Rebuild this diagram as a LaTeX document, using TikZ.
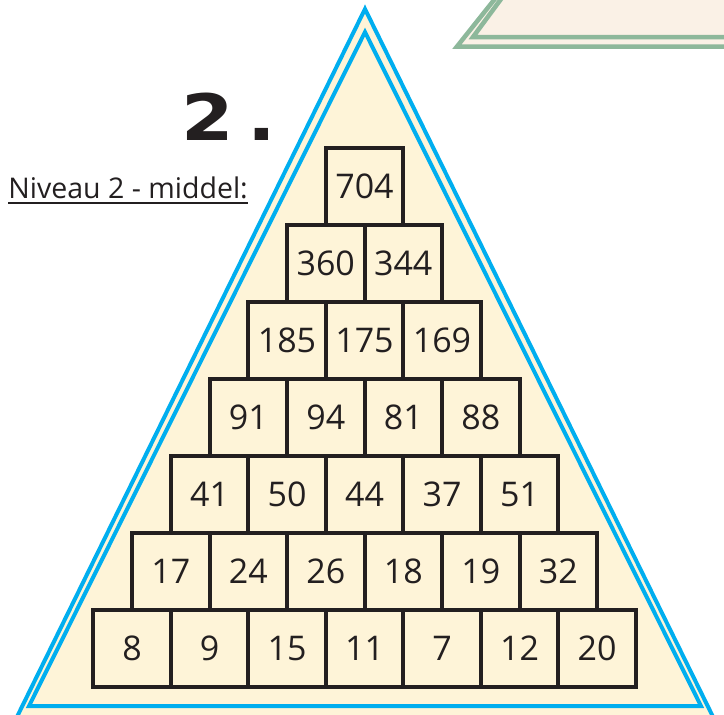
\documentclass[tikz,border=0pt]{standalone}
\usepackage{fontspec}
\setmainfont{Open Sans}
\newfontfamily\headfont{DejaVu Sans}
\usepackage{tikz}
\usetikzlibrary{positioning, calc}
\definecolor{pyrBlue}{HTML}{00AEEF}
\definecolor{pyrCream}{HTML}{FEF4D8}
\definecolor{boxLine}{HTML}{231F20}
\definecolor{nextGreen}{HTML}{8DB89B}
\definecolor{nextCream}{HTML}{FAF1E6}

\begin{document}
\begin{tikzpicture}[
    x=1pt, y=-1pt,
    numbox/.style={draw=boxLine, line width=4pt, fill=pyrCream,
                   minimum width=77.5pt, minimum height=77pt, inner sep=0pt,
                   font=\fontsize{34}{40}\selectfont, text=boxLine},
    rim/.style={draw=pyrBlue, line width=4pt, miter limit=10},
    nextrim/.style={draw=nextGreen, line width=4.5pt},
]
\useasboundingbox (0,0) rectangle (724,715);

% next pyramid, cut off at the top
\filldraw[nextrim, fill=nextCream] (498,-5) -- (457,46.5) -- (760,46.5) -- (760,-5);
\draw[nextrim] (504,-5) -- (473,37) -- (760,37);

% big pyramid
\filldraw[rim, fill=pyrCream] (365,9) -- (12,727) -- (718,727) -- cycle;
\draw[rim] (365,32) -- (29,706) -- (701,706) -- cycle;

% heading
\node[anchor=base west, inner sep=0pt, text=boxLine, xscale=1.18,
      font=\headfont\bfseries\fontsize{64}{70}\selectfont] (nr) at (181,140) {2\kern0.18em.};
\node[anchor=base east, inner sep=0pt, text=boxLine,
      font=\fontsize{28.5}{34}\selectfont] (lvl) at (248,198) {Niveau 2 - middel:};
\draw[boxLine, line width=1.8pt] ($(lvl.base west)+(0,5)$) -- ($(lvl.base east)+(0,5)$);

% number boxes, row by row
\foreach \row/\vals in {1/{704}, 2/{360,344}, 3/{185,175,169},
    4/{91,94,81,88}, 5/{41,50,44,37,51}, 6/{17,24,26,18,19,32},
    7/{8,9,15,11,7,12,20}} {
  \foreach \v [count=\c] in \vals {
    \node[numbox] (b\row-\c) at ({364.5+(\c-(\row+1)/2)*77.5}, {186.5+(\row-1)*77}) {\v};
  }
}
\end{tikzpicture}
\end{document}
